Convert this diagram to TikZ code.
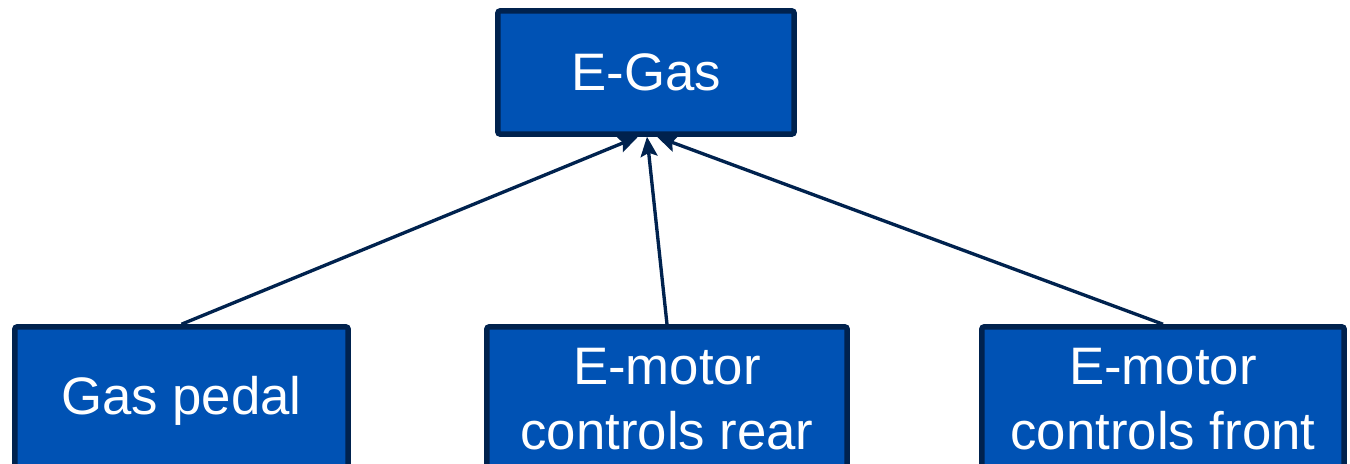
\documentclass[tikz,border=0pt]{standalone}
\usepackage{fontspec}
\setmainfont{Liberation Sans}
\usetikzlibrary{arrows.meta,calc}
\definecolor{boxfill}{RGB}{0,82,180}
\definecolor{boxline}{RGB}{0,34,78}
\begin{document}
\begin{tikzpicture}[x=0.01cm,y=-0.01cm,
  box/.style={draw=boxline, fill=boxfill, line width=1.55pt, text=white,
    font=\fontsize{15}{18.5}\selectfont, align=center, inner sep=0pt,
    rounded corners=0.6pt},
  conn/.style={draw=boxline, line width=0.95pt,
    -{Stealth[length=5.6pt,width=4.8pt,inset=1pt]}}]
\useasboundingbox (0,0) rectangle (1350,464);
\clip (0,0) rectangle (1350,464);
\node[box, minimum width=2.96cm, minimum height=1.23cm] (egas) at (646,72.5) {E-Gas};
\node[box, minimum width=3.33cm, minimum height=1.48cm] (gas) at (181.5,401) {Gas pedal};
\node[box, minimum width=3.60cm, minimum height=1.44cm] (rear) at (667,399) {E-motor\\controls rear};
\node[box, minimum width=3.62cm, minimum height=1.44cm] (front) at (1163,399) {E-motor\\controls front};
\coordinate (t1) at ($(egas.south)+(-8,0)$);
\coordinate (t2) at ($(egas.south)+(1,0)$);
\coordinate (t3) at ($(egas.south)+(11,0)$);
\draw[conn] (gas.north) -- (t1);
\draw[conn] (rear.north) -- (t2);
\draw[conn] (front.north) -- (t3);
\end{tikzpicture}
\end{document}
